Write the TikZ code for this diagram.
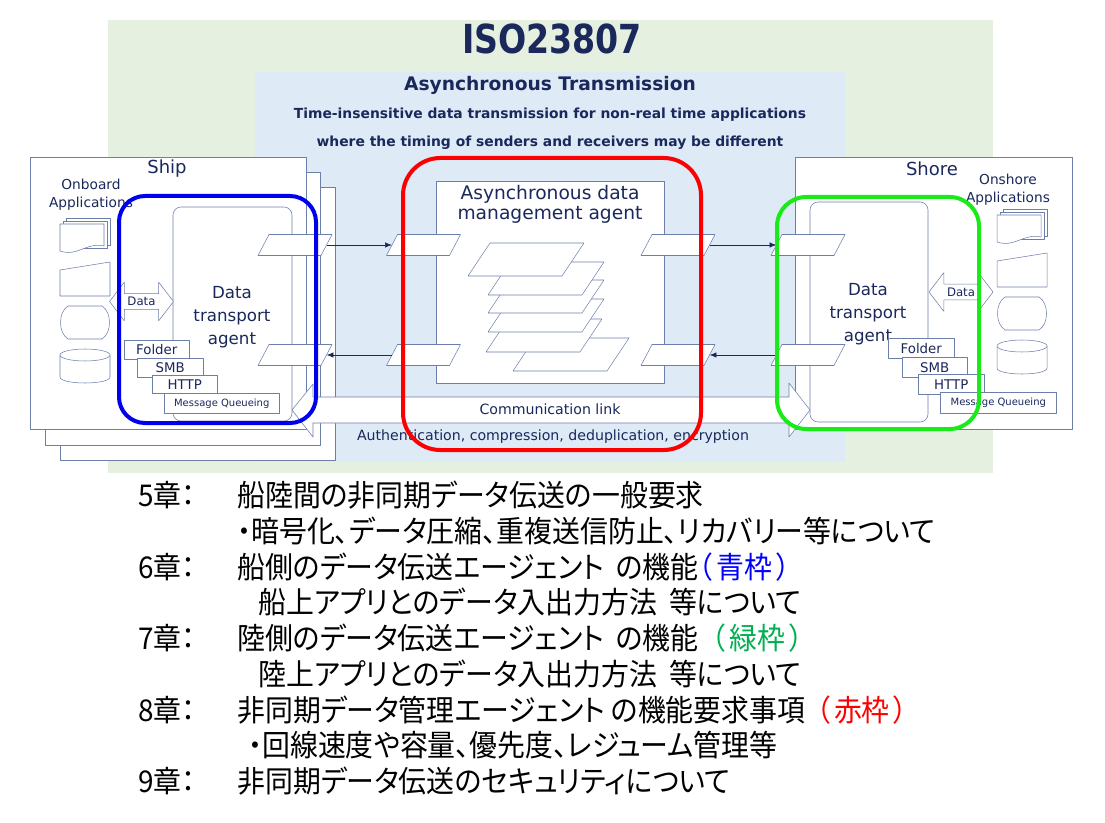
\documentclass[tikz,border=0pt]{standalone}
\usepackage{fontspec}
\usetikzlibrary{shapes.arrows,arrows.meta}
\setmainfont{DejaVu Sans}
\newfontfamily\jpfont{Noto Sans CJK JP}[RawFeature=+palt, FakeStretch=0.93]
\newfontfamily\titlefont{DejaVu Sans}[FakeStretch=0.83]
\definecolor{bggreen}{RGB}{230,240,224}
\definecolor{bgblue}{RGB}{222,234,246}
\definecolor{ink}{RGB}{26,40,92}
\definecolor{lineblue}{RGB}{108,126,170}
\definecolor{frameblue}{RGB}{0,0,235}
\definecolor{framered}{RGB}{250,0,0}
\definecolor{framegreen}{RGB}{25,235,25}
\definecolor{notegreen}{RGB}{0,176,80}

% onboard / onshore application symbols
\newcommand\appicons{%
	\path [icon] (66,218) rectangle (110,245);
	\path [icon] (63,221) rectangle (107,248);
	\path [icon] (60,224) -- (104,224) -- (104,246) .. controls (86,242) and (78,257) .. (60,251) -- cycle;
	\path [icon] (60,270) -- (110,262) -- (110,296) -- (60,296) -- cycle;
	\path [icon] (68,306) -- (102,306) .. controls (112,312) and (112,333) .. (102,339) -- 
	(68,339) .. controls (58,333) and (58,312) .. (68,306) -- cycle;
	\path [icon] (60,355) -- (60,377) .. controls (60,385) and (110,385) .. (110,377) -- (110,355) -- cycle;
	\path [icon] (85,355) ellipse [x radius=25, y radius=6];
}
% port: slanted plate with a node for the links
\newcommand\port[3]{%
	\path [box] (#2-37,#3+10.5) -- ++(63,0) -- ++(11,-21) -- ++(-63,0) -- cycle;
	\node [portspot] (#1) at (#2,#3) {};
}
\def\gap{\hspace{9pt}}
\newcommand\note[2]{{\color{#1}（\hspace{3pt}#2\hspace{3pt}）}}

\begin{document}
\begin{tikzpicture}[x=0.75pt, y=-0.75pt, line join=round,
	>={Latex[length=5pt, width=4pt]},
	icon/.style={draw=lineblue, fill=white, thin},
	box/.style={draw=lineblue, fill=white, thin},
	agent/.style={box, rounded corners=6pt, inner sep=0pt},
	agenttext/.style={txt, font=\fontsize{12.5pt}{17.5pt}\selectfont},
	tab/.style={box, anchor=north west, inner sep=0pt, text=ink,
		font=\fontsize{10pt}{12pt}\selectfont},
	portspot/.style={minimum width=47.25pt, minimum height=15.75pt, inner sep=0pt},
	dataarrow/.style={box, double arrow, double arrow tip angle=105, double arrow head extend=8.5pt,
		minimum width=28pt, minimum height=48pt, inner xsep=1pt, inner ysep=2.5pt, text=ink,
		font=\fontsize{8.8pt}{10pt}\selectfont},
	link/.style={ink, thin, ->},
	frame/.style={line width=3pt},
	txt/.style={text=ink, inner sep=0pt, align=center},
	jp/.style={anchor=base west, inner sep=0pt, font=\jpfont\fontsize{22.5pt}{27pt}\selectfont}]

	\useasboundingbox [fill=white] (0,0) rectangle (1105,823);

	% backgrounds
	\fill [bggreen] (108,20) rectangle (993,473);
	\fill [bgblue] (255,72) rectangle (845,462);

	\node [txt, font=\titlefont\bfseries\fontsize{30pt}{32pt}\selectfont] (iso) at (552,39) {ISO23807};
	\node [txt, font=\bfseries\fontsize{14pt}{16pt}\selectfont] (async) at (550,85) {Asynchronous Transmission};
	\node [txt, font=\bfseries\fontsize{10.4pt}{12pt}\selectfont] (desc1) at (550,115) 
	{Time-insensitive data transmission for non-real time applications};
	\node [txt, font=\bfseries\fontsize{10.4pt}{12pt}\selectfont] (desc2) at (550,143) 
	{where the timing of senders and receivers may be different};

	% ship
	\path [box] (60,187) rectangle (335,460);
	\path [box] (45,172) rectangle (320,445);
	\path [box] (30,157) rectangle (306,429);
	\node [txt, font=\fontsize{13.5pt}{15pt}\selectfont] (ship) at (167,169) {Ship};
	\node [txt, font=\fontsize{10.3pt}{13.5pt}\selectfont] (onboard) at (91,195) {Onboard\\Applications};
	\appicons
	\node [agent, minimum width=89.25pt, minimum height=160.5pt] (shipagent) at (232.5,314) {};
	\node [agenttext] (shiptext) at (232,317) {Data\\transport\\agent};
	\node [dataarrow] (shipdata) at (141.5,301.5) {Data};
	\node [tab, minimum width=48.75pt, minimum height=14.25pt] (sf) at (124,340) {Folder};
	\node [tab, minimum width=49.5pt, minimum height=14.25pt] (ss) at (137,358) {SMB};
	\node [tab, minimum width=48.75pt, minimum height=13.5pt] (sh) at (152,375) {HTTP};
	\node [tab, minimum width=86.25pt, minimum height=15pt, font=\fontsize{7.5pt}{9pt}\selectfont] 
	(sm) at (164,393) {Message Queueing};

	% shore
	\path [box] (795,157) rectangle (1072,429);
	\node [txt, font=\fontsize{13.5pt}{15pt}\selectfont] (shore) at (932,169) {Shore};
	\node [txt, font=\fontsize{10.3pt}{13.5pt}\selectfont] (onshore) at (1008,190) {Onshore\\Applications};
	\begin{scope}[shift={(937,-9)}]
	\appicons
	\end{scope}
	\node [agent, minimum width=88.5pt, minimum height=165pt] (shoreagent) at (869,312) {};
	\node [agenttext] (shoretext) at (868,314) {Data\\transport\\agent};
	\node [dataarrow, minimum width=27pt] (shoredata) at (961,292) {Data};
	\node [tab, minimum width=49.5pt, minimum height=15pt] (hf) at (888,338) {Folder};
	\node [tab, minimum width=48.75pt, minimum height=15pt] (hs) at (902,357) {SMB};
	\node [tab, minimum width=49.5pt, minimum height=15pt] (hh) at (918,374) {HTTP};
	\node [tab, minimum width=87pt, minimum height=15.75pt, font=\fontsize{7.5pt}{9pt}\selectfont] 
	(hm) at (940,392) {Message Queueing};

	% asynchronous data management agent
	\node [box, minimum width=171pt, minimum height=151.5pt, inner sep=0pt] (adm) at (550,282) {};
	\node [txt, font=\fontsize{14pt}{15pt}\selectfont, below=3.5pt] (admtitle) at (adm.north) 
	{Asynchronous data\\management agent};
	\foreach \x/\y in {513/371, 486/352, 488/332, 488/313, 488/295, 468/276}
	\path [box] (\x,\y) -- ++(94,0) -- ++(22,-33) -- ++(-94,0) -- cycle;

	% communication link
	\path [box] (292,410) -- (313,384) -- (313,397) -- (789,397) -- (789,383) -- (810,410) -- 
	(789,437) -- (789,423) -- (313,423) -- (313,437) -- cycle;
	\node [txt, font=\fontsize{10.6pt}{12pt}\selectfont] (comm) at (550,409) {Communication link};
	\node [txt, font=\fontsize{10.6pt}{12pt}\selectfont] (auth) at (553,437) 
	{Authentication, compression, deduplication, encryption};

	% ports
	\port{sp1}{295}{245}
	\port{sp2}{295}{355}
	\port{cl1}{423.5}{245}
	\port{cl2}{423.5}{355}
	\port{cr1}{678}{245}
	\port{cr2}{678}{355}
	\port{hp1}{808}{245}
	\port{hp2}{808}{355}
	\draw [link] (sp1.east) -- (cl1.west);
	\draw [link] (cl2.west) -- (sp2.east);
	\draw [link] (cr1.east) -- (hp1.west);
	\draw [link] (hp2.west) -- (cr2.east);

	% chapter frames
	\draw [frame, frameblue, rounded corners=19.5pt] (119,196) rectangle (316,423);
	\draw [frame, framered, rounded corners=28pt] (403,158) rectangle (701,450);
	\draw [frame, framegreen, rounded corners=22pt] (777,197) rectangle (979,429);

	% chapters
	\node [jp] (c5) at (138,506) {5章：};
	\node [jp] (t5) at (237,506) {船陸間の非同期データ伝送の一般要求};
	\node [jp] (t5a) at (237,542) {・暗号化、データ圧縮、重複送信防止、リカバリー等について};
	\node [jp] (c6) at (138,578) {6章：};
	\node [jp] (t6) at (237,578) {船側のデータ伝送エージェント\gap の機能\note{blue}{青枠}};
	\node [jp] (t6a) at (258,613) {船上アプリとのデータ入出力方法\gap 等について};
	\node [jp] (c7) at (138,649) {7章：};
	\node [jp] (t7) at (237,649) {陸側のデータ伝送エージェント\gap の機能\hspace{10pt}\note{notegreen}{緑枠}};
	\node [jp] (t7a) at (258,685) {陸上アプリとのデータ入出力方法\gap 等について};
	\node [jp] (c8) at (138,721) {8章：};
	\node [jp] (t8) at (237,721) {非同期データ管理エージェント の機能要求事項\hspace{8pt}\note{red}{赤枠}};
	\node [jp] (t8a) at (248,756) {・回線速度や容量、優先度、レジューム管理等};
	\node [jp] (c9) at (138,792) {9章：};
	\node [jp] (t9) at (237,792) {非同期データ伝送のセキュリティについて};

\end{tikzpicture}
\end{document}
